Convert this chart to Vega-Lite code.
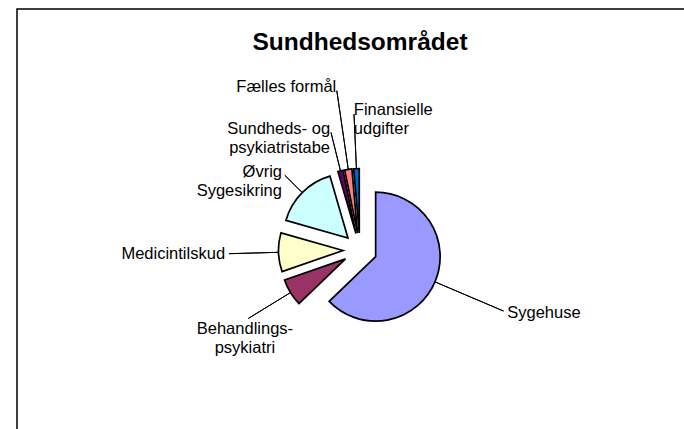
{
  "$schema": "https://vega.github.io/schema/vega-lite/v6.json",
  "width": 667,
  "height": 420,
  "padding": {"left": 17, "top": 9, "right": 0, "bottom": 0},
  "autosize": {"type": "none"},
  "background": "white",
  "view": {"stroke": "#000000", "strokeWidth": 1.5, "strokeDash": [667, 1087, 420]},
  "params": [
    {"name": "explode", "value": 17},
    {"name": "cxo", "value": 9.5},
    {"name": "cyo", "value": 31}
  ],
  "title": {
    "text": "Sundhedsområdet",
    "font": "Liberation Sans",
    "fontSize": 24.5,
    "fontWeight": "bold",
    "color": "#000000",
    "anchor": "middle",
    "dx": 9.5,
    "offset": -65.5,
    "baseline": "alphabetic"
  },
  "config": {
    "text": {"font": "Liberation Sans"}
  },
  "data": {
    "values": [
      {"idx": 1, "label": "Sygehuse", "value": 62.8},
      {"idx": 2, "label": "Behandlings-\npsykiatri", "value": 6.9},
      {"idx": 3, "label": "Medicintilskud", "value": 9.7},
      {"idx": 4, "label": "Øvrig\nSygesikring", "value": 16.1},
      {"idx": 5, "label": "Sundheds- og\npsykiatristabe", "value": 1.3},
      {"idx": 6, "label": "Fælles formål", "value": 1.8},
      {"idx": 7, "label": "Finansielle\nudgifter", "value": 1.4}
    ]
  },
  "layer": [
    {
      "mark": {
        "type": "arc",
        "outerRadius": 64.5,
        "stroke": "#000000",
        "strokeWidth": 1.7,
        "x": {"expr": "width/2 + cxo + explode*sin(scale('theta', (datum.value_start + datum.value_end)/2))"},
        "y": {"expr": "height/2 + cyo - explode*cos(scale('theta', (datum.value_start + datum.value_end)/2))"}
      },
      "encoding": {
        "theta": {"field": "value", "type": "quantitative", "stack": true},
        "order": {"field": "idx", "type": "quantitative"},
        "color": {
          "field": "label",
          "type": "nominal",
          "scale": {
            "domain": ["Sygehuse", "Behandlings-\npsykiatri", "Medicintilskud", "Øvrig\nSygesikring", "Sundheds- og\npsykiatristabe", "Fælles formål", "Finansielle\nudgifter"],
            "range": ["#9999FF", "#993366", "#FFFFCC", "#CCFFFF", "#660066", "#FF8080", "#0066CC"]
          },
          "legend": null
        }
      }
    },
    {
      "transform": [
        {"stack": "value", "groupby": [], "sort": [{"field": "idx", "order": "ascending"}], "as": ["s0", "s1"]}
      ],
      "mark": {
        "type": "arc",
        "theta": {"expr": "scale('theta', (datum.s0 + datum.s1)/2)"},
        "theta2": {"expr": "scale('theta', (datum.s0 + datum.s1)/2)"},
        "innerRadius": 81,
        "outerRadius": {"expr": "[156, 131, 131, 106, 121, 161, 136][datum.idx - 1]"},
        "filled": false,
        "stroke": "#000000",
        "strokeWidth": 1,
        "x": {"expr": "width/2 + cxo"},
        "y": {"expr": "height/2 + cyo"}
      },
      "encoding": {"detail": {"field": "label", "type": "nominal"}}
    },
    {
      "mark": {
        "type": "text",
        "radius": {"expr": "[160, 135, 135, 110, 125, 165, 140][datum.idx - 1]"},
        "align": {"expr": "['left', 'center', 'right', 'right', 'right', 'right', 'left'][datum.idx - 1]"},
        "baseline": {"expr": "['middle', 'top', 'middle', 'middle', 'middle', 'middle', 'middle'][datum.idx - 1]"},
        "fontSize": 16.5,
        "lineHeight": 19,
        "lineBreak": "\n",
        "color": "#000000",
        "x": {"expr": "width/2 + cxo"},
        "y": {"expr": "height/2 + cyo"}
      },
      "encoding": {
        "theta": {"field": "value", "type": "quantitative", "stack": true},
        "order": {"field": "idx", "type": "quantitative"},
        "text": {"field": "label", "type": "nominal"},
        "detail": {"field": "label", "type": "nominal"}
      }
    }
  ]
}
